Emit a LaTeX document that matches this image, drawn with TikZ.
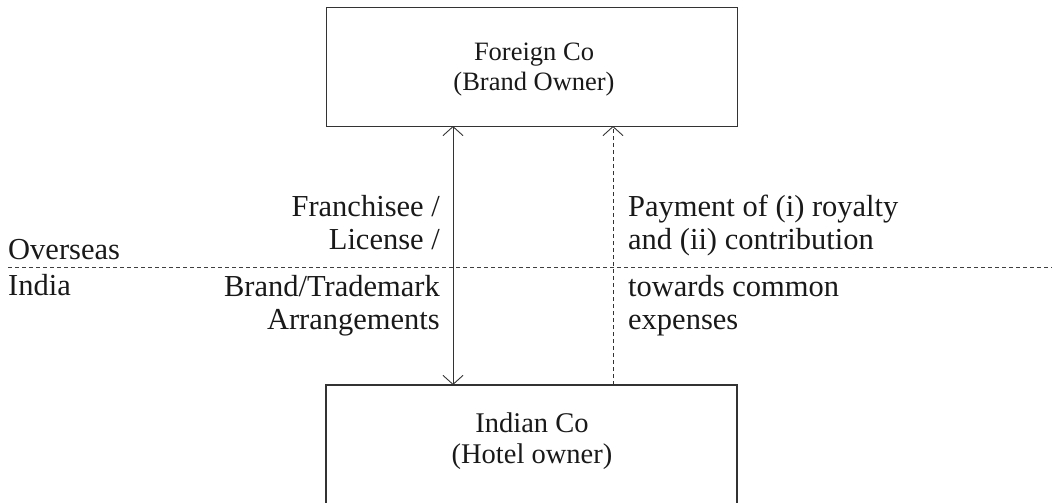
\documentclass[tikz,border=0pt]{standalone}
\usepackage{fontspec}
\setmainfont{Liberation Serif}
\usetikzlibrary{arrows.meta}
\tikzset{
  box/.style={draw=black!80, line width=1.2pt},
  barb/.tip={Straight Barb[length=9pt,width=20pt,line width=0.9pt]},
  txt/.style={font=\fontsize{30.5}{33}\selectfont, inner sep=0pt, text=black!90},
  boxtxt/.style={inner sep=0pt, align=center, text=black!90},
  dsh/.style={dash pattern=on 4pt off 3pt},
}
\begin{document}
\begin{tikzpicture}[x=1pt,y=-1pt]
\useasboundingbox (0,0) rectangle (1052,503);
\node[box, minimum width=411pt, minimum height=119pt, anchor=north west] (foreign) at (326,7) {};
\node[boxtxt, font=\fontsize{26.5}{30}\selectfont] (ftxt) at (534,70) {Foreign Co\\(Brand Owner)};
\draw[box] (326,560) |- (737,385) -- (737,560);
\node[boxtxt, font=\fontsize{28.5}{31}\selectfont] (itxt) at (532,441) {Indian Co\\(Hotel owner)};
\coordinate (sbot) at (453,385);
\coordinate (stop) at (453,126);
\coordinate (dbot) at (613,385);
\coordinate (dtop) at (613,126);
\draw[line width=0.9pt, draw=black!80, barb-barb] (sbot) -- (stop);
\draw[line width=0.9pt, draw=black!80, dsh, -barb] (dbot) -- (dtop);
\coordinate (dl) at (8,267);
\coordinate (dr) at (1052,267);
\draw[line width=0.9pt, draw=black!75, dsh] (dl) -- (dr);
\node[txt, anchor=base west] (ov) at (8,259) {Overseas};
\node[txt, anchor=base west] (in) at (8,295) {India};
\node[txt, anchor=base east] (l1) at (440,216) {Franchisee /};
\node[txt, anchor=base east] (l2) at (440,249) {License /};
\node[txt, anchor=base east] (l3) at (440,296) {Brand/Trademark};
\node[txt, anchor=base east] (l4) at (440,329) {Arrangements};
\node[txt, anchor=base west] (r1) at (628,216) {Payment of (i) royalty};
\node[txt, anchor=base west] (r2) at (628,249) {and (ii) contribution};
\node[txt, anchor=base west] (r3) at (628,296) {towards common};
\node[txt, anchor=base west] (r4) at (628,329) {expenses};
\end{tikzpicture}
\end{document}
